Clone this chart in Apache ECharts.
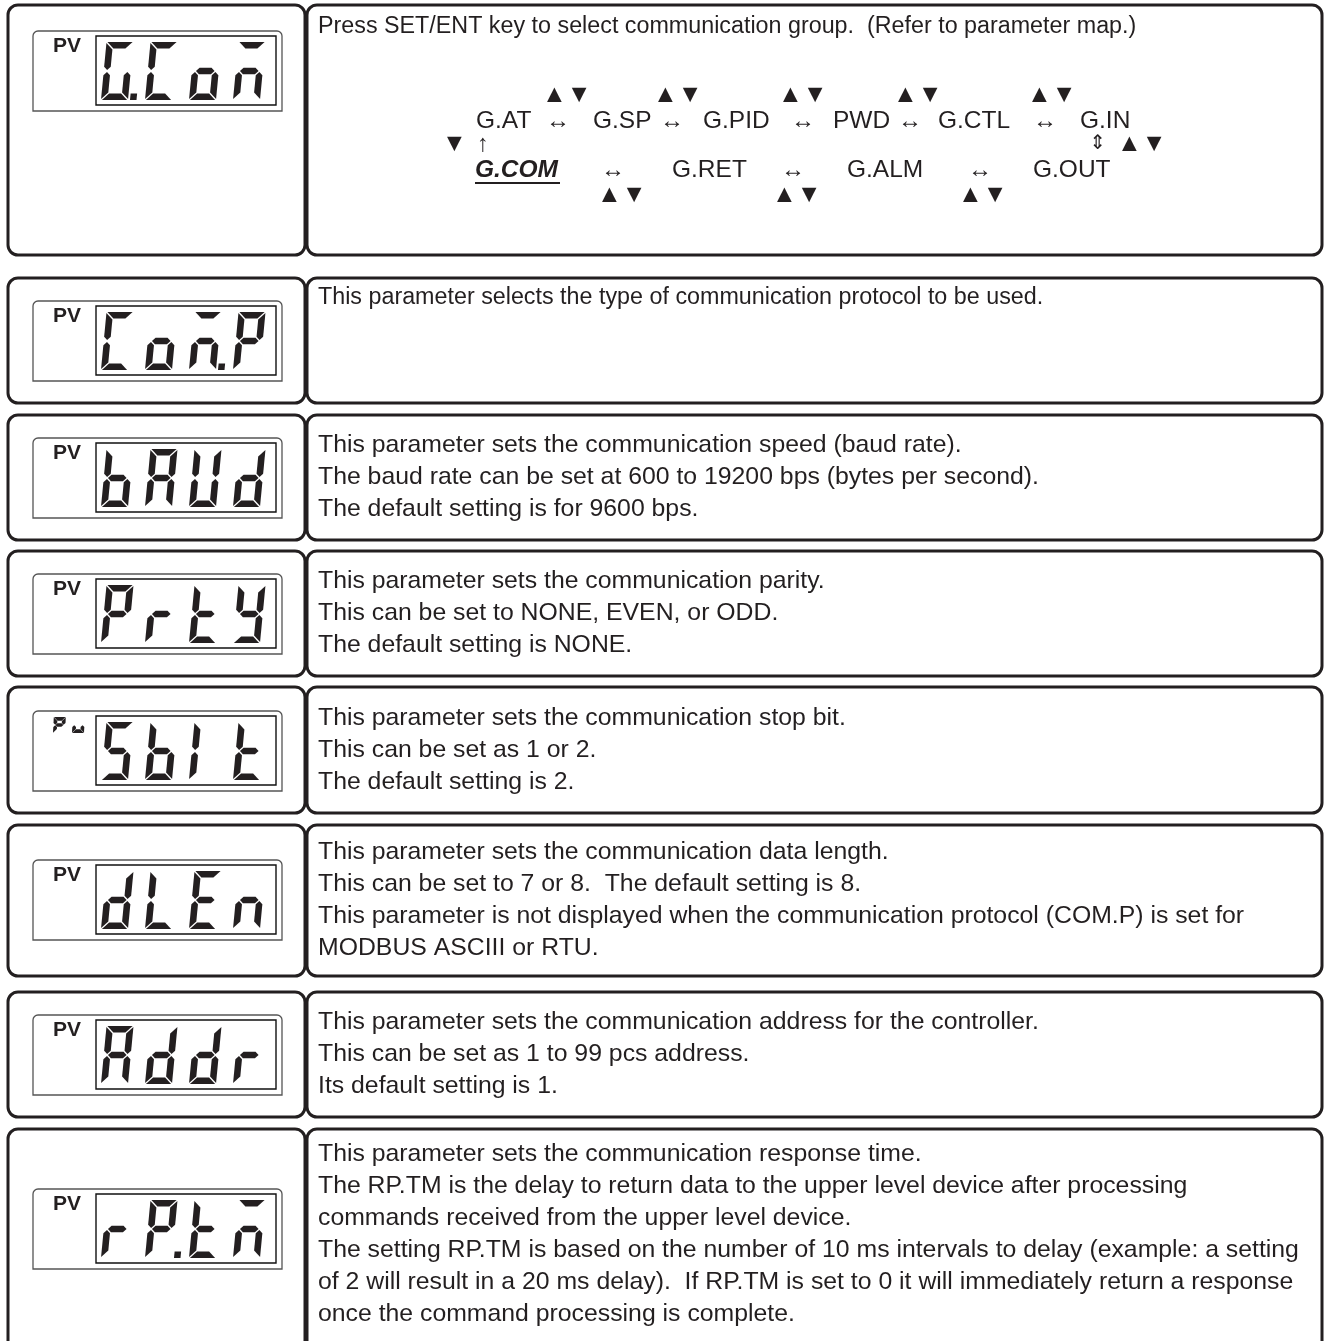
<!DOCTYPE html>
<html><head><meta charset="utf-8">
<script src="https://cdn.jsdelivr.net/npm/echarts@6/dist/echarts.min.js"></script>
<style>html,body{margin:0;padding:0;background:#fff}#c{width:1327px;height:1341px}</style>
</head><body><div id="c"></div>
<script>
// ---------- content ----------
const displayCodes = ['G.Com', 'Com.P', 'bAUd', 'PrtY', 'SbIt', 'dLEn', 'Addr', 'rP.tm'];
const displayLabels = ['PV', 'PV', 'PV', 'PV', 'Pu', 'PV', 'PV', 'PV'];
const introLine = 'Press SET/ENT key to select communication group.  (Refer to parameter map.)';
const groupTopRow = ['G.AT', 'G.SP', 'G.PID', 'PWD', 'G.CTL', 'G.IN'];
const groupBottomRow = ['G.COM', 'G.RET', 'G.ALM', 'G.OUT'];
const descComP = ['This parameter selects the type of communication protocol to be used.'];
const descBaud = ['This parameter sets the communication speed (baud rate).',
  'The baud rate can be set at 600 to 19200 bps (bytes per second).',
  'The default setting is for 9600 bps.'];
const descPrty = ['This parameter sets the communication parity.',
  'This can be set to NONE, EVEN, or ODD.',
  'The default setting is NONE.'];
const descSbit = ['This parameter sets the communication stop bit.',
  'This can be set as 1 or 2.',
  'The default setting is 2.'];
const descDlen = ['This parameter sets the communication data length.',
  'This can be set to 7 or 8.  The default setting is 8.',
  'This parameter is not displayed when the communication protocol (COM.P) is set for',
  'MODBUS ASCIII or RTU.'];
const descAddr = ['This parameter sets the communication address for the controller.',
  'This can be set as 1 to 99 pcs address.',
  'Its default setting is 1.'];
const descRptm = ['This parameter sets the communication response time.',
  'The RP.TM is the delay to return data to the upper level device after processing',
  'commands received from the upper level device.',
  'The setting RP.TM is based on the number of 10 ms intervals to delay (example: a setting',
  'of 2 will result in a 20 ms delay).  If RP.TM is set to 0 it will immediately return a response',
  'once the command processing is complete.'];
const descriptions = [[introLine], descComP, descBaud, descPrty, descSbit, descDlen, descAddr, descRptm];

// ---------- layout ----------
const INK = '#231f20';
const FONT = '"Liberation Sans", Arial, Helvetica, sans-serif';
const LINE = 32;
const rowTop = [5, 278, 415, 551, 687, 825, 992, 1129];
const rowBot = [255, 403, 540, 676, 813, 976, 1117, 1400];
const dispTop = [31, 301, 438, 574, 711, 860, 1015, 1189];
const textFirst = [27, 298, 445.5, 581.5, 718, 852.5, 1022.5, 1154];
const textSize = [23.3, 23.3, 24.8, 24.8, 24.8, 24.8, 24.8, 24.8];

// 7-seg geometry
const W = 27, H = 58, T = 6.6, G = 0.9, K = 0.095, PITCH = 44;
function segShapes(W, H, T, G) {
  return {
    a: [[G,0],[W-G,0],[W-T-G,T],[T+G,T]],
    g: [[T/2+G,H/2],[T+G,H/2-T/2],[W-T-G,H/2-T/2],[W-T/2-G,H/2],[W-T-G,H/2+T/2],[T+G,H/2+T/2]],
    d: [[T+G,H-T],[W-T-G,H-T],[W-G,H],[G,H]],
    f: [[0,G],[T,T+G],[T,H/2-T/2-G],[T/2,H/2-G],[0,H/2-T/2-G]],
    e: [[0,H/2+T/2+G],[T/2,H/2+G],[T,H/2+T/2+G],[T,H-T-G],[0,H-G]],
    b: [[W,G],[W,H/2-T/2-G],[W-T/2,H/2-G],[W-T,H/2-T/2-G],[W-T,T+G]],
    c: [[W,H/2+T/2+G],[W,H-G],[W-T,H-T-G],[W-T,H/2+T/2+G],[W-T/2,H/2+G]]
  };
}
const SEG = segShapes(W, H, T, G);
const SEG_SMALL = segShapes(12, 16, 3.7, 0.2);
const GLYPH = {
  G:'acdef', C:'adef', o:'cdeg', m:'aceg', P:'abefg', b:'cdefg', A:'abcefg', U:'bcdef',
  d:'bcdeg', r:'eg', t:'defg', Y:'bcdfg', S:'acdfg', I:'ef', L:'def', E:'adefg', n:'ceg', u:'cde'
};

function slant(pts, ox, oy, h, k) {
  return pts.map(p => [ox + p[0] + (h - p[1]) * k, oy + p[1]]);
}

const els = [];
for (let i = 0; i < rowTop.length; i++) {
  els.push({type:'rect', shape:{x:8, y:rowTop[i], width:297, height:rowBot[i]-rowTop[i], r:10},
    style:{fill:'none', stroke:INK, lineWidth:3}});
  els.push({type:'rect', shape:{x:307, y:rowTop[i], width:1015, height:rowBot[i]-rowTop[i], r:10},
    style:{fill:'none', stroke:INK, lineWidth:3}});
}

function drawDisplay(i) {
  const top = dispTop[i];
  els.push({type:'rect', shape:{x:33, y:top, width:249, height:80, r:[5,5,0,0]},
    style:{fill:'none', stroke:'#555', lineWidth:1.3}});
  els.push({type:'rect', shape:{x:96, y:top+5, width:180, height:69},
    style:{fill:'none', stroke:'#111', lineWidth:1.4}});
  const label = displayLabels[i];
  if (label === 'PV') {
    els.push({type:'text', style:{text:'PV', x:53, y:top+15, font:'bold 21px ' + FONT,
      fill:INK, textVerticalAlign:'middle'}});
  } else {
    label.split('').forEach((ch, j) => {
      for (const s of (GLYPH[ch] || '')) {
        els.push({type:'polygon', shape:{points: slant(SEG_SMALL[s], 53 + j*19, top+6, 16, 0.05)},
          style:{fill:INK}});
      }
    });
  }
  const code = displayCodes[i];
  let pos = 0;
  const ox0 = 101, oy = top + 11;
  for (let c = 0; c < code.length; c++) {
    const ch = code[c];
    if (ch === '.') {
      const ox = ox0 + (pos-1)*PITCH;
      els.push({type:'polygon', shape:{points: slant([[W+2,H-6.5],[W+8.5,H-6.5],[W+8.5,H],[W+2,H]], ox, oy, H, K)},
        style:{fill:INK}});
      continue;
    }
    const ox = ox0 + pos*PITCH;
    for (const s of (GLYPH[ch] || '')) {
      els.push({type:'polygon', shape:{points: slant(SEG[s], ox, oy, H, K)}, style:{fill:INK}});
    }
    pos++;
  }
}
for (let i = 0; i < displayCodes.length; i++) drawDisplay(i);

for (let i = 0; i < descriptions.length; i++) {
  descriptions[i].forEach((line, j) => {
    els.push({type:'text', style:{text:line, x:318, y:textFirst[i] + j*LINE, font:textSize[i] + 'px ' + FONT,
      fill:INK, textVerticalAlign:'middle'}});
  });
}

const DG = 24.5;
const topRowX = [476, 593, 703, 833, 938, 1080];
const topArrowX = [558, 672, 803, 910, 1045];
const topTriX = [542, 653, 778, 893, 1027];
const botRowX = [475, 672, 847, 1033];
const botArrowX = [613, 793, 980];
const botTriX = [597, 772, 958];
function txt(s, x, y, opts) {
  els.push({type:'text', style:Object.assign({text:s, x:x, y:y, font:DG + 'px ' + FONT, fill:INK,
    textVerticalAlign:'middle'}, opts || {})});
}
const TRI = '25px ' + FONT, ARR = '24px ' + FONT;
groupTopRow.forEach((s, j) => txt(s, topRowX[j], 121));
topArrowX.forEach(x => txt('\u2194', x, 121, {textAlign:'center', font:ARR}));
topTriX.forEach(x => txt('\u25B2\u25BC', x, 95, {font:TRI}));
groupBottomRow.forEach((s, j) => {
  txt(s, botRowX[j], 170, j === 0 ? {font:'italic bold ' + DG + 'px ' + FONT} : null);
});
els.push({type:'line', shape:{x1:475, y1:183, x2:560, y2:183}, style:{stroke:INK, lineWidth:2}});
botArrowX.forEach(x => txt('\u2194', x, 170, {textAlign:'center', font:ARR}));
botTriX.forEach(x => txt('\u25B2\u25BC', x, 195, {font:TRI}));
txt('\u25BC', 442, 144, {font:TRI});
txt('\u2191', 483, 144, {textAlign:'center', font:ARR});
txt('\u21D5', 1098, 144, {textAlign:'center', font:'20px "DejaVu Sans", sans-serif'});
txt('\u25B2\u25BC', 1117, 144, {font:TRI});

const chart = echarts.init(document.getElementById('c'), null, {renderer:'canvas'});
chart.setOption({animation:false, backgroundColor:'#fff', graphic:{elements:els}});
</script>
</body></html>
